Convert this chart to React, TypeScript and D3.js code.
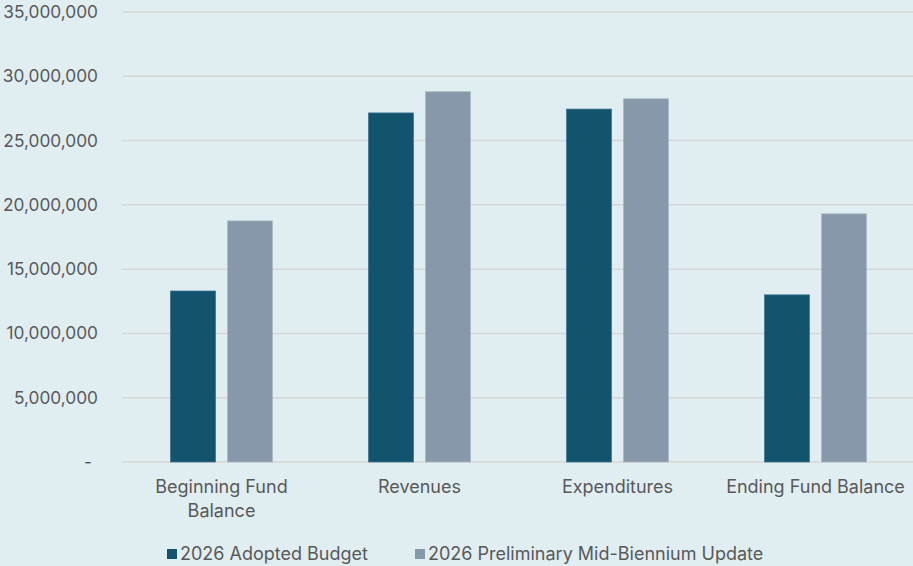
import React from "react";
import * as d3 from "d3";

const categories = [["Beginning Fund", "Balance"], ["Revenues"], ["Expenditures"], ["Ending Fund Balance"]];
const seriesNames = ["2026 Adopted Budget", "2026 Preliminary Mid-Biennium Update"];
const adopted = [13300000, 27150000, 27450000, 13000000];
const preliminary = [18750000, 28800000, 28250000, 19300000];
const yTicks = [0, 5000000, 10000000, 15000000, 20000000, 25000000, 30000000, 35000000];
const colors = ["#12536e", "#8698aa"];

const W = 913, H = 566;
const left = 122.5, right = 914.5, top = 12, bottom = 462;
const font = "Inter, 'Noto Sans', sans-serif";
const textColor = "#595959";

export default function App() {
  const x = d3.scaleBand().domain(categories.map((_, i) => String(i))).range([left, right]);
  const y = d3.scaleLinear().domain([0, 35000000]).range([bottom, top]);
  const fmt = d3.format(",");
  const barW = 45, gap = 12;
  const series = [adopted, preliminary];
  return (
    <svg width={W} height={H} style={{ position: "absolute", left: 0, top: 0, background: "#e0edf1" }}>
      <rect width={W} height={H} fill="#e0edf1" />
      {yTicks.map(t => (
        <g key={t}>
          <line x1={122} x2={W} y1={y(t)} y2={y(t)} stroke="#d6d6d6" strokeWidth={1.5} />
          <text x={t === 0 ? 92 : 98} y={y(t)} dy="0.35em" textAnchor="end" fontFamily={font} fontSize={17.3} fill={textColor}>
            {t === 0 ? "-" : fmt(t)}
          </text>
        </g>
      ))}
      {series.map((s, si) =>
        s.map((v, i) => {
          const c = x(String(i))! + x.bandwidth() / 2;
          const bx = si === 0 ? c - gap / 2 - barW : c + gap / 2;
          return (
            <rect key={si + "-" + i} x={bx} y={y(v)} width={barW} height={y(0) - y(v)} fill={colors[si]}
              stroke={si === 0 ? "#3d7590" : "#a9b8c4"} strokeWidth={0.75} />
          );
        })
      )}
      {categories.map((lines, i) => (
        <text key={i} x={x(String(i))! + x.bandwidth() / 2} y={493} textAnchor="middle" fontFamily={font} fontSize={18} fill={textColor}>
          {lines.map((l, j) => (
            <tspan key={j} x={x(String(i))! + x.bandwidth() / 2} dy={j === 0 ? 0 : 24}>{l}</tspan>
          ))}
        </text>
      ))}
      {seriesNames.map((n, i) => {
        const lx = i === 0 ? 167 : 415;
        return (
          <g key={n}>
            <rect x={lx} y={549} width={10} height={10} fill={colors[i]} />
            <text x={lx + 13} y={560} fontFamily={font} fontSize={18} fill={textColor}>{n}</text>
          </g>
        );
      })}
    </svg>
  );
}
